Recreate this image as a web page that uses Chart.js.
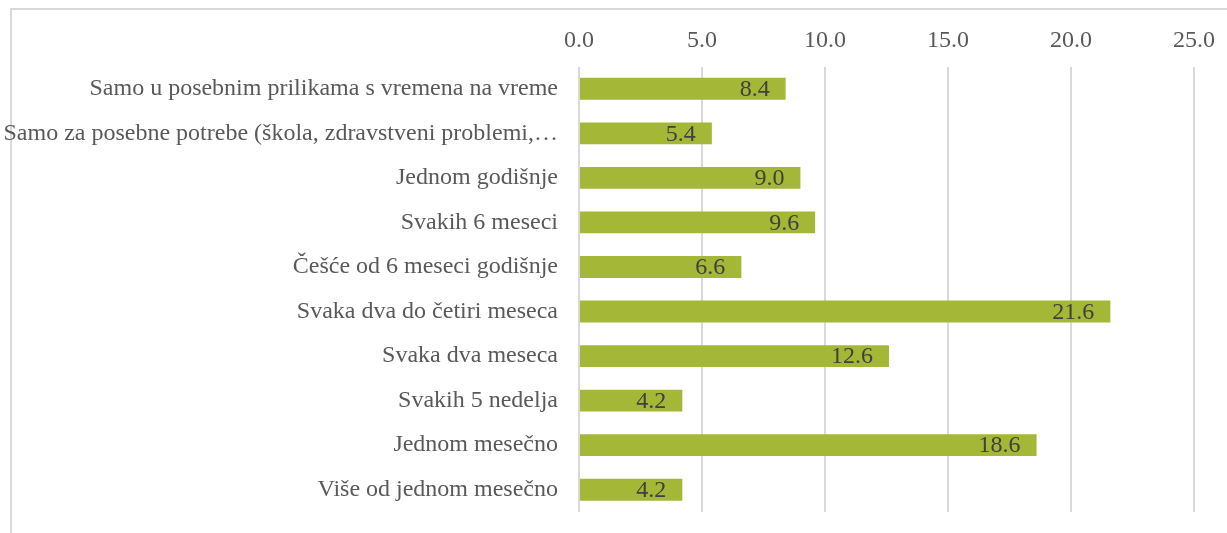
<!DOCTYPE html>
<html>
<head>
<meta charset="utf-8">
<script src="https://cdn.jsdelivr.net/npm/chart.js@4"></script>
<style>
    html, body { margin: 0; padding: 0; background: #ffffff; overflow: hidden; }
    #frame {
        position: absolute;
        left: 10px;
        top: 8px;
        width: 1300px;
        height: 600px;
        border: 2px solid #d9d9d9;
    }
    #wrap { position: absolute; left: 0; top: 0; width: 1227px; height: 533px; }
</style>
</head>
<body>
<div id="frame"></div>
<div id="wrap"><canvas id="chartCanvas" width="1227" height="533"></canvas></div>
<script>
const categories = [
    "Samo u posebnim prilikama s vremena na vreme",
    "Samo za posebne potrebe (škola, zdravstveni problemi,…",
    "Jednom godišnje",
    "Svakih 6 meseci",
    "Češće od 6 meseci godišnje",
    "Svaka dva do četiri meseca",
    "Svaka dva meseca",
    "Svakih 5 nedelja",
    "Jednom mesečno",
    "Više od jednom mesečno"
];

const percentages = [8.4, 5.4, 9.0, 9.6, 6.6, 21.6, 12.6, 4.2, 18.6, 4.2];

const xTicks = [0, 5, 10, 15, 20, 25];

const fontFamily = "'Liberation Serif', 'Times New Roman', serif";

// writes the value inside the end of each bar
const barValues = {
    id: "barValues",
    afterDatasetsDraw(chart) {
        const ctx = chart.ctx;
        const meta = chart.getDatasetMeta(0);
        ctx.save();
        ctx.font = "24px " + fontFamily;
        ctx.fillStyle = "#404040";
        ctx.textAlign = "right";
        ctx.textBaseline = "middle";
        meta.data.forEach((bar, i) => {
            ctx.fillText(percentages[i].toFixed(1), bar.x - 16, bar.y + 1);
        });
        ctx.restore();
    }
};

const ctx = document.getElementById("chartCanvas").getContext("2d");

new Chart(ctx, {
    type: "bar",
    data: {
        labels: categories,
        datasets: [{
            data: percentages,
            backgroundColor: "#a4b736",
            borderWidth: 0,
            categoryPercentage: 1.0,
            barPercentage: 0.49
        }]
    },
    options: {
        indexAxis: "y",
        responsive: false,
        animation: false,
        layout: {
            padding: { left: 0, right: 33, top: 0, bottom: 21 }
        },
        plugins: {
            legend: { display: false },
            tooltip: { enabled: false }
        },
        scales: {
            x: {
                position: "top",
                min: 0,
                max: 25,
                afterBuildTicks(scale) {
                    scale.ticks = xTicks.map(v => ({ value: v }));
                },
                afterFit(scale) {
                    scale.height = 66.5;
                    scale.paddingLeft = 0;
                    scale.paddingRight = 0;
                },
                grid: {
                    color: "#d9d9d9",
                    lineWidth: 2,
                    drawTicks: false
                },
                border: { display: false },
                ticks: {
                    padding: 11,
                    color: "#595959",
                    font: { family: fontFamily, size: 24 },
                    callback: value => value.toFixed(1)
                }
            },
            y: {
                afterFit(scale) {
                    scale.width = 579;
                    scale.paddingTop = 0;
                    scale.paddingBottom = 0;
                },
                grid: { display: false, drawTicks: false },
                border: { display: false },
                ticks: {
                    padding: 21,
                    autoSkip: false,
                    color: "#595959",
                    font: { family: fontFamily, size: 24 }
                }
            }
        }
    },
    plugins: [barValues]
});
</script>
</body>
</html>
